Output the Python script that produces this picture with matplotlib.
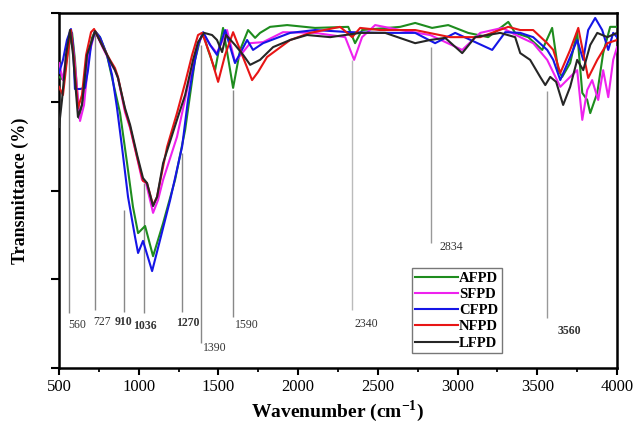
import numpy as np
import matplotlib.pyplot as plt
from matplotlib.ticker import MultipleLocator

# FTIR spectra of the five samples (wavenumber in cm-1, transmittance in %)
afpd_wn = [500, 531, 556, 582, 600, 625, 651, 682, 707, 726, 757, 801, 833, 883, 927, 964,
           996, 1040, 1090, 1153, 1228, 1291, 1322, 1353, 1385, 1404, 1435, 1479, 1529, 1592,
           1636, 1686, 1730, 1761, 1824, 1931, 2106, 2314, 2357, 2401, 2640, 2734, 2840, 2941,
           3066, 3192, 3318, 3361, 3443, 3531, 3593, 3631, 3656, 3706, 3750, 3782, 3813, 3832,
           3876, 3913, 3957, 4000]
afpd_t = [82, 81.1, 89.6, 94.4, 86.8, 70.4, 75.5, 86.8, 93, 94.9, 93.2, 88.2, 81.7, 71.8, 57.7, 45.4,
          38, 40, 31.5, 40.8, 53, 67, 76.9, 86.8, 92.4, 94.4, 89.6, 83.9, 95.8, 78.9,
          89.6, 95.2, 93, 94.4, 96.1, 96.6, 95.8, 96.1, 91.5, 95.2, 96.1, 97.2, 95.8, 96.6,
          94.4, 93.2, 97.5, 94.4, 93.2, 89.6, 95.8, 83.9, 82, 85.9, 94.6, 77.5, 75.5, 71.8,
          77.5, 88.7, 96.1, 96.1]

sfpd_wn = [500, 525, 550, 575, 594, 632, 657, 688, 726, 776, 820, 851, 870, 914, 946, 990,
           1021, 1046, 1090, 1121, 1153, 1240, 1303, 1341, 1372, 1404, 1448, 1491, 1554, 1604,
           1699, 1780, 1905, 2106, 2295, 2351, 2401, 2483, 2640, 2828, 3029, 3142, 3280, 3393,
           3474, 3562, 3644, 3706, 3750, 3782, 3813, 3844, 3882, 3913, 3945, 3976, 4000]
sfpd_t = [85.9, 81.1, 89.6, 95.2, 88.2, 69.6, 74.1, 88.2, 94.9, 90.1, 86.2, 83.9, 81.7, 72.1, 67.6, 59.2,
          53, 52.1, 43.7, 47.3, 53, 65.1, 78.3, 85.4, 91, 94.4, 91, 88.7, 95.2, 86.2,
          91.5, 91.8, 94.6, 94.4, 93.2, 86.8, 93.2, 96.6, 95.2, 93.8, 89.6, 94.4, 95.8, 93.2,
          91.5, 86.8, 79.2, 82, 83.9, 69.9, 78.3, 81.1, 75.5, 83.9, 76.3, 86.8, 90.4]

cfpd_wn = [500, 525, 550, 575, 588, 600, 632, 663, 682, 701, 726, 757, 801, 833, 864, 895,
           933, 977, 996, 1027, 1084, 1134, 1197, 1272, 1309, 1335, 1372, 1404, 1448, 1491,
           1542, 1604, 1680, 1717, 1780, 1950, 2106, 2326, 2514, 2734, 2859, 2985, 3217, 3299,
           3393, 3474, 3562, 3600, 3644, 3706, 3750, 3788, 3819, 3863, 3907, 3945, 3976, 4000]
cfpd_t = [83.1, 86.8, 92.4, 95.5, 91, 78.6, 78.6, 78.9, 83.9, 91, 94.9, 93.2, 88.2, 82.5, 73.2, 62.3,
          48.2, 36.9, 32.4, 35.8, 27.3, 36.1, 47.3, 62.3, 75.5, 82.5, 91, 94.6, 91, 88.2,
          95.2, 85.9, 92.4, 89.6, 91.5, 94.4, 95.2, 94.6, 94.4, 94.4, 91.5, 94.4, 89.6, 94.6,
          94.4, 93.2, 89.6, 86.8, 81.1, 87.6, 92.4, 86.8, 95.2, 98.6, 95.2, 89.6, 94.4, 93.2]

nfpd_wn = [500, 525, 550, 575, 594, 619, 644, 670, 701, 720, 776, 820, 851, 870, 914, 946,
           990, 1027, 1052, 1090, 1115, 1178, 1240, 1291, 1335, 1372, 1397, 1448, 1498, 1542,
           1592, 1636, 1711, 1749, 1805, 1950, 2075, 2263, 2339, 2389, 2514, 2734, 2953, 3142,
           3318, 3393, 3474, 3562, 3600, 3644, 3706, 3757, 3819, 3876, 3939, 4000]
nfpd_t = [79.2, 76.9, 86.8, 95.2, 86.8, 73.2, 76.9, 88.2, 94.6, 95.5, 90.4, 86.8, 84.5, 82, 72.7, 67.9,
          59.4, 52.7, 52.1, 45.9, 48.2, 62.3, 71.8, 80.3, 88.2, 93.8, 94.4, 88.2, 80.6, 88.2,
          94.6, 89.6, 81.1, 83.4, 87.6, 92.4, 94.4, 96.1, 93.2, 95.8, 95.2, 95.2, 93.2, 93.2,
          96.1, 95.2, 95.2, 91.5, 89.6, 83.1, 89.6, 95.8, 81.7, 86.8, 91.5, 92.4]

lfpd_wn = [500, 519, 544, 569, 588, 619, 644, 676, 726, 776, 820, 851, 870, 914, 946, 990,
           1027, 1052, 1090, 1115, 1153, 1240, 1291, 1341, 1372, 1410, 1460, 1491, 1523, 1548,
           1604, 1655, 1699, 1761, 1843, 1950, 2056, 2201, 2389, 2546, 2734, 2828, 2922, 3029,
           3110, 3267, 3361, 3393, 3455, 3518, 3550, 3581, 3618, 3662, 3706, 3750, 3788, 3832,
           3876, 3939, 4000]
lfpd_t = [67.9, 75.5, 88.2, 95.2, 88.2, 70.7, 74.1, 88.2, 94.9, 90.4, 86.5, 83.9, 81.7, 73.2, 68.5, 60,
          53.5, 52.1, 45.6, 48.2, 57.7, 69.9, 76.9, 86.8, 91.8, 94.4, 93.8, 92.4, 89, 93.8,
          91, 88.2, 85.4, 86.8, 90.4, 92.4, 93.8, 93.2, 94.4, 94.4, 91.5, 92.4, 93, 88.7,
          93.2, 94.4, 93.2, 88.7, 86.8, 82, 79.7, 82, 80.6, 74.1, 79.2, 86.8, 83.9, 91,
          94.4, 93.2, 94.4]

# assigned band positions
band_wn = [560, 727, 910, 1036, 1270, 1390, 1590, 2340, 2834, 3560]
band_labels = ['560', '727', '910', '1036', '1270', '1390', '1590', '2340', '2834', '3560']
band_bold = [False, False, True, True, True, False, False, False, False, True]

# drop lines (top, bottom in %) and label anchors
band_top = [91, 94.6, 44.5, 52, 60.6, 91, 78.3, 86.8, 90.4, 78]
band_bot = [15.5, 16.3, 15.8, 15.5, 15.8, 7, 14.4, 16.3, 35.2, 14]
label_x = [611, 768, 904, 1040, 1311, 1479, 1678, 2425, 2960, 3700]
label_y = [12.1, 13, 13, 11.8, 12.6, 5.6, 12.1, 12.4, 34.1, 10.5]
band_col = ['#888888'] * 7 + ['#bbbbbb', '#999999', '#999999']

serif = 'Liberation Serif'
plt.rcParams['font.family'] = serif
plt.rcParams['mathtext.fontset'] = 'custom'
plt.rcParams['mathtext.rm'] = serif
plt.rcParams['mathtext.bf'] = serif + ':bold'

fig = plt.figure(figsize=(6.35, 4.25), dpi=100)
ax = fig.add_axes([0.0929, 0.1341, 0.8788, 0.8353])

for i in range(len(band_wn)):
    ax.vlines(band_wn[i], band_bot[i], band_top[i], color=band_col[i], lw=1.0, zorder=1)
    ax.text(label_x[i], label_y[i], band_labels[i], ha='center', va='center',
            fontsize=8.5, fontweight='bold' if band_bold[i] else 'normal', color='#333333')

series = [
    (afpd_wn, afpd_t, '#1e8c1e', 'AFPD'),
    (sfpd_wn, sfpd_t, '#ee22ee', 'SFPD'),
    (cfpd_wn, cfpd_t, '#1515e6', 'CFPD'),
    (nfpd_wn, nfpd_t, '#e81515', 'NFPD'),
    (lfpd_wn, lfpd_t, '#262626', 'LFPD'),
]
for wn, t, c, name in series:
    ax.plot(wn, t, color=c, lw=1.5, label=name, zorder=3)

ax.set_xlim(500, 4000)
ax.set_ylim(0, 100)
ax.xaxis.set_major_locator(MultipleLocator(500))
ax.xaxis.set_minor_locator(MultipleLocator(250))
ax.yaxis.set_major_locator(MultipleLocator(25))
ax.set_yticklabels([])
ax.tick_params(axis='x', which='major', direction='out', length=5, width=1.5, labelsize=12, pad=3)
ax.tick_params(axis='x', which='minor', direction='out', length=3, width=1.3)
ax.tick_params(axis='y', which='major', direction='out', length=6, width=1.5)
for s in ax.spines.values():
    s.set_linewidth(1.8)

ax.set_xlabel('Wavenumber (cm$^{\\mathbf{-1}}$)', fontsize=14, fontweight='bold', labelpad=2)
ax.set_ylabel('Transmittance (%)', fontsize=13, fontweight='bold', labelpad=12)

leg = ax.legend(loc='upper left', bbox_to_anchor=(0.632, 0.281), borderaxespad=0,
                prop={'family': serif, 'weight': 'bold', 'size': 10.5},
                handlelength=2.9, handletextpad=0.1, labelspacing=0.2,
                borderpad=0.25, fancybox=False, framealpha=1)
leg.get_frame().set_edgecolor('#777777')
leg.get_frame().set_linewidth(1.0)

fig.savefig('out.png', dpi=100)
